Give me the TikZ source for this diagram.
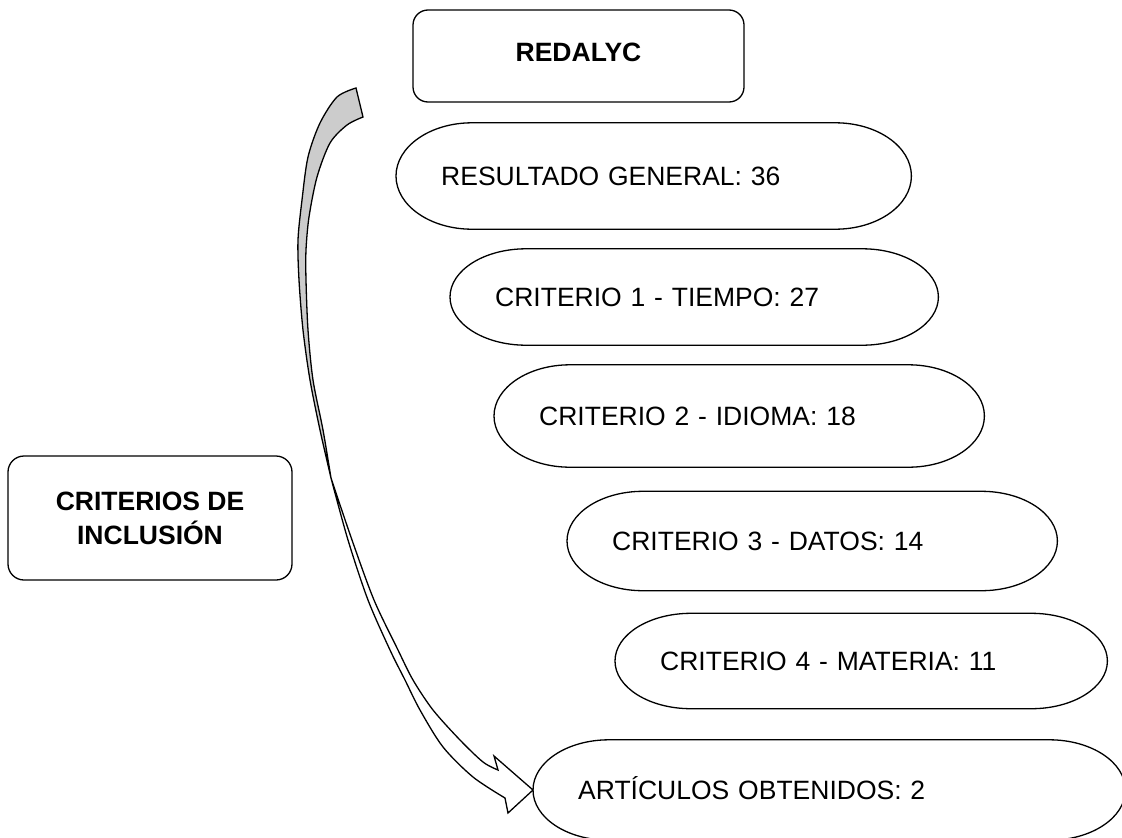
\documentclass[tikz,border=0pt]{standalone}
\usepackage{fontspec}
\setmainfont{Liberation Sans}
\usetikzlibrary{calc}
\tikzset{every node/.style={ % Sets the text of every node
           align=center, inner sep=0pt,
           font=\fontsize{26.5}{34}\selectfont},
         box/.style={ % Rounded boxes with bold titles
           draw, line width=1.3pt, rounded corners=15pt,
           font=\fontsize{26.5}{34}\selectfont\bfseries},
         term/.style 2 args={ % Text of the oval steps, left aligned
           anchor=west, inner xsep=45pt, align=left,
           text width=#1, minimum height=#2,
           text height=19pt, text depth=0pt},
         termline/.style={line width=1.3pt},
         arrowline/.style={line width=1.3pt, line join=miter}}

\begin{document}
\begin{tikzpicture}[x=1pt, y=1pt]
  \useasboundingbox (0,0) rectangle (1122,-838);

  \node [box, minimum width=331pt, text height=51.5pt, text depth=40.5pt]
    (redalyc) at (578.5,-56) {REDALYC};
  \node [box, rounded corners=16pt, minimum width=284pt, minimum height=124pt]
    (criterios) at (150,-518) {CRITERIOS DE\\INCLUSIÓN};

  \node [term={425pt}{106pt}] (res) at (396,-176) {RESULTADO GENERAL: 36};
  \node [term={398pt}{96pt}] (crit1) at (450,-297) {CRITERIO 1 - TIEMPO: 27};
  \node [term={400pt}{102pt}] (crit2) at (494,-416) {CRITERIO 2 - IDIOMA: 18};
  \node [term={400pt}{99pt}] (crit3) at (567,-541) {CRITERIO 3 - DATOS: 14};
  \node [term={402pt}{95pt}] (crit4) at (615,-661) {CRITERIO 4 - MATERIA: 11};
  \node [term={502pt}{100pt}] (art) at (533,-790) {ARTÍCULOS OBTENIDOS: 2};

  % oval outlines with elliptic ends
  \foreach \nd in {res,crit1,crit2,crit3,crit4,art}
    \draw [termline] let \p1=(\nd.north west), \p2=(\nd.south east),
        \n1={(\y1-\y2)/2} in
      (\x1+76pt,\y1) -- (\x2-76pt,\y1)
      arc [start angle=90, end angle=-90, x radius=76pt, y radius=\n1]
      -- (\x1+76pt,\y2)
      arc [start angle=270, end angle=90, x radius=76pt, y radius=\n1]
      -- cycle;

  % curved arrow, back side (grey) and front side
  \coordinate (tail) at (356,-88);
  \draw [arrowline, fill=gray!40] plot [smooth] coordinates {(tail) (337,-97)
      (320,-123) (308,-157) (302,-200) (298,-240) (299,-280) (303,-330)
      (310,-380) (320,-430) (331,-478)}
    -- plot [smooth] coordinates {(331,-478) (323,-430) (313,-380) (308,-330)
      (306,-280) (306,-250) (309,-217) (317,-177) (330,-143) (347,-125)
      (363,-117)} -- cycle;
  \draw [arrowline, fill=white] plot [smooth] coordinates {(331,-478)
      (352,-540) (374,-600) (398,-650) (413,-680) (433,-710) (460,-740)
      (483,-762) (498,-770)}
    -- (494,-756) -- (art.west) -- (508,-813) -- (505,-798)
    -- plot [smooth] coordinates {(505,-798) (473,-777) (443,-747)
      (420,-710) (405,-680) (390,-650) (368,-600) (348,-540) (331,-478)}
    -- cycle;
\end{tikzpicture}
\end{document}
